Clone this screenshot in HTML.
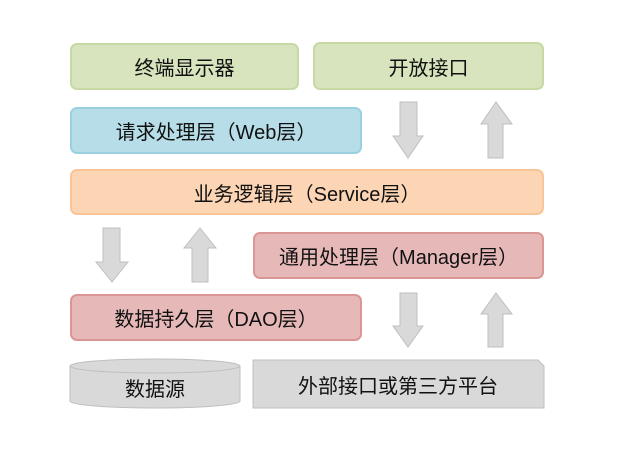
<!DOCTYPE html>
<html><head><meta charset="utf-8"><style>
body{margin:0;width:638px;height:465px;background:#fff;position:relative;overflow:hidden;font-family:"Liberation Sans","Noto Sans CJK SC",sans-serif;}
.b{position:absolute;box-sizing:border-box;border-radius:7px;display:flex;align-items:center;justify-content:center;font-size:20px;color:#111;border:2px solid;}
.g{background:#d7e4bd;border-color:#c6d9a5}
.bl{background:#b7dee8;border-color:#9bd0df}
.o{background:#fcd5b5;border-color:#f9c597}
.r{background:#e6b9b8;border-color:#d99694}
</style></head><body>
<div class="b g" style="left:70px;top:43px;width:229px;height:47px">终端显示器</div>
<div class="b g" style="left:313px;top:42px;width:231px;height:48px">开放接口</div>
<div class="b bl" style="left:70px;top:107px;width:292px;height:47px">请求处理层（Web层）</div>
<div class="b o" style="left:70px;top:169px;width:474px;height:46px">业务逻辑层（Service层）</div>
<div class="b r" style="left:253px;top:232px;width:291px;height:47px">通用处理层（Manager层）</div>
<div class="b r" style="left:70px;top:294px;width:292px;height:47px">数据持久层（DAO层）</div>
<svg width="638" height="465" style="position:absolute;left:0;top:0">
<g fill="#d9d9d9" stroke="#bfbfbf" stroke-width="1">
<polygon points="400,102 417,102 417,136 423,136 408,158 393,136 400,136"/>
<polygon points="488,158 503,158 503,124 512,124 496,102 481,124 488,124"/>
<polygon points="103,228 120,228 120,262 128,262 112,282 96,262 103,262"/>
<polygon points="192,282 208,282 208,248 216,248 200,228 184,248 192,248"/>
<polygon points="400,293 417,293 417,326 423,326 408,347 393,326 400,326"/>
<polygon points="488,347 503,347 503,314 512,314 496,293 481,314 488,314"/>
<path d="M70,366 L70,401 A85,7 0 0 0 240,401 L240,366 Z"/>
<ellipse cx="155" cy="366" rx="85" ry="7"/>
<polygon points="253,360 538,360 544,366 544,408 253,408"/>
</g>
<text x="155" y="396" font-size="20" text-anchor="middle" fill="#111" font-family="Liberation Sans, Noto Sans CJK SC, sans-serif">数据源</text>
<text x="398" y="393" font-size="20" text-anchor="middle" fill="#111" font-family="Liberation Sans, Noto Sans CJK SC, sans-serif">外部接口或第三方平台</text>
</svg>
</body></html>
